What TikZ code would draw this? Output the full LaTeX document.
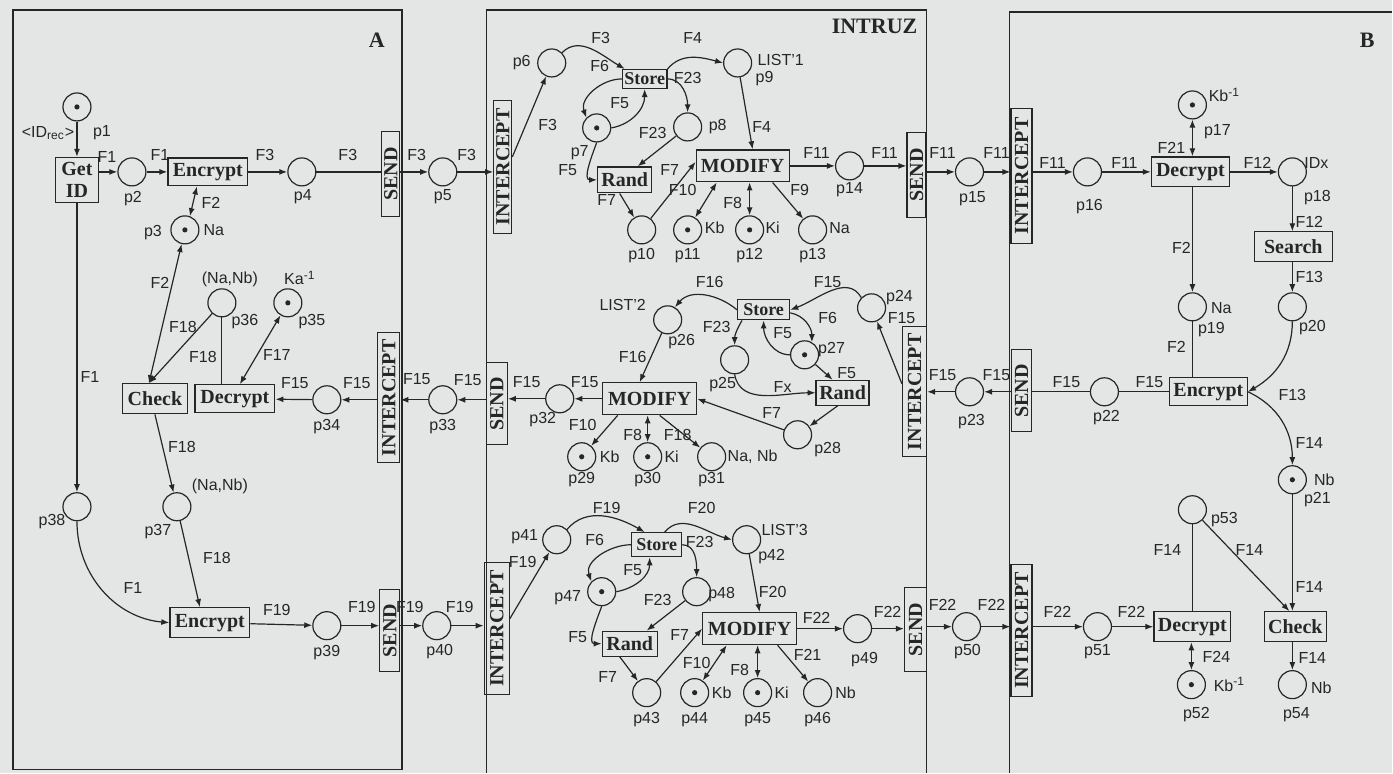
\documentclass[tikz,border=0pt]{standalone}
\usepackage{fontspec}
\setmainfont{Liberation Serif}
\setsansfont{Liberation Sans}
\usetikzlibrary{arrows.meta, calc}
\definecolor{scanbg}{HTML}{E4E6E6}
\definecolor{ink}{HTML}{262626}

\begin{document}
\begin{tikzpicture}[x=0.5pt, y=0.5pt, >={Latex[length=4pt,width=3pt]},
    color=ink, line width=0.6pt,
    placenode/.style={circle, draw, minimum size=14pt, inner sep=0pt},
    marked/.style={placenode, path picture={\fill (path picture bounding box.center) circle (1.3pt);}},
    transbox/.style={draw, rectangle, inner sep=1pt, font=\bfseries\fontsize{10}{11}\selectfont},
    sidebox/.style={transbox, rotate=90},
    lab/.style={font=\sffamily\fontsize{8}{9}\selectfont, inner sep=0pt},
    title/.style={font=\bfseries\fontsize{11}{12}\selectfont, inner sep=0pt},
    flow/.style={->}, flow2/.style={<->}, bare/.style={-}]
  \fill[scanbg] (0,0) rectangle (1393,-773);
  % frames
  \draw[line width=0.7pt] (13,-10) rectangle (402,-770);
  \draw[line width=0.7pt] (487,-773) -- (487,-10) -- (927,-10) -- (927,-773);
  \draw[line width=0.7pt] (1393,-12) -- (1010,-12) -- (1010,-773);
  \node[title] (tA) at (377,-40) {A};
  \node[title] (tI) at (875,-26) {INTRUZ};
  \node[title] (tB) at (1368,-40) {B};

  % places
  \foreach \n/\x/\y in {p2/132/172, p4/302/172, p5/443/172, p36/222/303, p34/327/400,
      p33/443/400, p38/77/507, p37/177/507, p39/327/626, p40/437/626,
      p6/552/63, p9/738/63, p8/688/127, p10/642/230, p13/813/230, p14/850/166,
      p24/872/308, p26/668/320, p25/735/360, p32/560/399, p28/798/435, p31/712/457,
      p41/557/540, p42/747/540, p48/697/592, p43/647/693, p46/818/693, p49/858/629,
      p15/970/172, p23/970/392, p50/967/627,
      p16/1088/172, p18/1293/172, p19/1193/307, p20/1293/307, p22/1105/392,
      p53/1193/510, p51/1098/627, p54/1293/685}
    \node[placenode] (\n) at (\x,-\y) {};
  \foreach \n/\x/\y in {p1/77/107, p3/185/230, p35/288/303, p7/597/128, p11/688/230,
      p12/750/230, p27/805/355, p29/582/457, p30/648/457, p47/602/592, p44/695/693,
      p45/758/693, p17/1193/105, p21/1293/480, p52/1192/685}
    \node[marked] (\n) at (\x,-\y) {};

  % transitions
  \node[transbox, minimum width=21.5pt, minimum height=22.5pt, align=center] (getid) at (77,-180) {Get\\ID};
  \node[transbox, minimum width=40pt, minimum height=14pt] (encA) at (208,-172) {Encrypt};
  \node[transbox, minimum width=32.5pt, minimum height=15pt] (checkA) at (155,-399) {Check};
  \node[transbox, minimum width=40pt, minimum height=14pt] (decA) at (235,-399) {Decrypt};
  \node[transbox, minimum width=40pt, minimum height=15pt] (encA2) at (210,-623) {Encrypt};
  \node[transbox, minimum width=20pt, minimum height=9.5pt, font=\bfseries\fontsize{9}{10}\selectfont] (storeI1) at (645,-79) {Store};
  \node[transbox, minimum width=27pt, minimum height=13pt] (randI1) at (625,-180) {Rand};
  \node[transbox, minimum width=46.5pt, minimum height=16pt] (modI1) at (743,-166) {MODIFY};
  \node[transbox, minimum width=26pt, minimum height=10pt, font=\bfseries\fontsize{9}{10}\selectfont] (storeI2) at (764,-310) {Store};
  \node[transbox, minimum width=26.5pt, minimum height=12.5pt] (randI2) at (843,-393) {Rand};
  \node[transbox, minimum width=47pt, minimum height=16pt] (modI2) at (650,-399) {MODIFY};
  \node[transbox, minimum width=25pt, minimum height=12pt, font=\bfseries\fontsize{9}{10}\selectfont] (storeI3) at (657,-545) {Store};
  \node[transbox, minimum width=27.5pt, minimum height=12.5pt] (randI3) at (630,-644) {Rand};
  \node[transbox, minimum width=47pt, minimum height=16pt] (modI3) at (750,-629) {MODIFY};
  \node[transbox, minimum width=39pt, minimum height=15pt] (decB1) at (1191,-172) {Decrypt};
  \node[transbox, minimum width=39pt, minimum height=15pt] (search) at (1294,-247) {Search};
  \node[transbox, minimum width=39pt, minimum height=14pt] (encB) at (1209,-392) {Encrypt};
  \node[transbox, minimum width=38.5pt, minimum height=15pt] (decB3) at (1193,-627) {Decrypt};
  \node[transbox, minimum width=31pt, minimum height=15pt] (checkB) at (1296,-627) {Check};
  % side transitions
  \node[sidebox, minimum width=42.5pt, minimum height=9pt] (sendA1) at (391,-174) {SEND};
  \node[sidebox, minimum width=65pt, minimum height=11pt] (intA) at (389,-398) {INTERCEPT};
  \node[sidebox, minimum width=41pt, minimum height=10pt] (sendA2) at (390,-631) {SEND};
  \node[sidebox, minimum width=66.5pt, minimum height=9pt] (intI1) at (503,-167) {INTERCEPT};
  \node[sidebox, minimum width=42.5pt, minimum height=9.5pt] (sendI1) at (917,-175) {SEND};
  \node[sidebox, minimum width=41pt, minimum height=10.5pt] (sendI2) at (497,-404) {SEND};
  \node[sidebox, minimum width=65pt, minimum height=12pt] (intI2) at (915,-392) {INTERCEPT};
  \node[sidebox, minimum width=66pt, minimum height=12.5pt] (intI3) at (497,-629) {INTERCEPT};
  \node[sidebox, minimum width=42pt, minimum height=11pt] (sendI3) at (916,-630) {SEND};
  \node[sidebox, minimum width=67.5pt, minimum height=10.5pt] (intB1) at (1022,-176) {INTERCEPT};
  \node[sidebox, minimum width=41pt, minimum height=10pt] (sendB) at (1022,-391) {SEND};
  \node[sidebox, minimum width=66pt, minimum height=10.5pt] (intB3) at (1022,-631) {INTERCEPT};

  % labels
  \foreach \x/\y/\txt in {48/133/{\textless ID\textsubscript{rec}\textgreater}, 102/133/p1,
      107/157/F1, 160/155/F1, 265/155/F3, 348/155/F3, 417/155/F3, 467/155/F3,
      133/199/p2, 303/197/p4, 443/197/p5, 211/203/F2, 153/233/p3, 214/230/Na,
      160/283/F2, 230/280/{(Na,Nb)}, 300/278/{Ka\textsuperscript{-1}}, 245/322/p36,
      312/322/p35, 183/327/F18, 203/357/F18, 277/355/F17, 90/377/F1, 295/383/F15,
      357/383/F15, 417/379/F15, 468/380/F15, 327/427/p34, 443/427/p33, 182/447/F18,
      220/487/{(Na,Nb)}, 52/522/p38, 158/532/p37, 217/558/F18, 133/588/F1,
      277/610/F19, 362/607/F19, 410/607/F19, 460/607/F19, 327/653/p39, 440/652/p40,
      601/38/F3, 693/38/F4, 522/63/p6, 781/60/{LIST'1}, 765/79/p9, 600/66/F6,
      688/78/F23, 620/103/F5, 580/153/p7, 653/133/F23, 718/127/p8, 762/127/F4,
      548/125/F3, 568/170/F5, 670/170/F7, 817/153/F11, 850/190/p14, 885/153/F11,
      683/190/F10, 733/203/F8, 800/190/F9, 607/200/F7, 715/228/Kb, 773/228/Ki,
      840/228/Na, 642/256/p10, 688/256/p11, 750/256/p12, 813/256/p13,
      710/282/F16, 828/282/F15, 900/298/p24, 902/318/F15, 623/305/{LIST'2},
      682/342/p26, 717/327/F23, 828/318/F6, 783/333/F5, 832/350/p27, 723/385/p25,
      633/357/F16, 847/373/F5, 783/387/Fx, 543/420/p32, 585/382/F15, 527/382/F15,
      772/413/F7, 828/450/p28, 583/425/F10, 633/435/F8, 678/435/F18, 610/457/Kb,
      672/457/Ki, 753/457/{Na, Nb}, 582/480/p29, 648/480/p30, 712/480/p31,
      607/508/F19, 702/508/F20, 525/537/p41, 523/562/F19, 595/540/F6, 700/542/F23,
      785/530/{LIST'3}, 772/557/p42, 633/570/F5, 568/598/p47, 722/595/p48,
      658/600/F23, 773/592/F20, 578/637/F5, 680/635/F7, 817/618/F22, 865/660/p49,
      888/612/F22, 697/663/F10, 740/670/F8, 808/655/F21, 608/677/F7, 722/693/Kb,
      782/693/Ki, 846/693/Nb, 647/720/p43, 695/720/p44, 758/720/p45, 818/720/p46,
      943/153/F11, 997/153/F11, 973/199/p15, 943/375/F15, 997/375/F15, 972/422/p23,
      943/605/F22, 992/605/F22, 968/652/p50,
      1053/163/F11, 1090/207/p16, 1125/163/F11, 1172/148/F21,
      1225/95/{Kb\textsuperscript{-1}}, 1218/132/p17, 1258/163/F12, 1317/163/IDx,
      1318/198/p18, 1310/222/F12, 1182/248/F2, 1310/277/F13, 1313/328/p20,
      1222/308/Na, 1212/330/p19, 1177/347/F2, 1293/395/F13, 1150/382/F15,
      1107/418/p22, 1067/382/F15, 1310/443/F14, 1325/480/Nb, 1318/500/p21,
      1225/520/p53, 1168/550/F14, 1250/550/F14, 1310/587/F14, 1058/612/F22,
      1098/652/p51, 1132/612/F22, 1217/657/F24, 1230/685/{Kb\textsuperscript{-1}},
      1197/715/p52, 1313/658/F14, 1322/688/Nb, 1297/715/p54}
    \node[lab] (l-\x-\y) at (\x,-\y) {\txt};

  % A
  \draw[flow] (p1) -- (getid);
  \draw[flow] (getid.east |- p2) -- (p2);
  \draw[flow] (p2) -- (encA);
  \draw[flow2] (p3.70) -- ($(encA.south)+(-11,0)$);
  \draw[flow] (encA) -- (p4);
  \draw[bare] (p4) -- (p4 -| sendA1.north);
  \draw[flow] (sendA1.south |- p5) -- (p5);
  \draw[flow] (p5) -- (p5 -| intI1.north);
  \draw[flow2] ($(checkA.north)+(-6,0)$) -- (p3);
  \draw[flow] (p36) -- ($(checkA.north)+(-6,0)$);
  \draw[bare] (decA.north -| p36) -- (p36);
  \draw[flow2] (p35) -- ($(decA.north)+(5,0)$);
  \draw[flow] (checkA.south) -- (p37);
  \draw[flow] (intA.north |- p34) -- (p34);
  \draw[flow] (p34) -- (decA);
  \draw[flow] (p33) -- (p33 -| intA.south);
  \draw[flow] (sendI2.north |- p33) -- (p33);
  \draw[flow] (getid) -- (p38);
  \draw[flow] (p38.south) to[out=-90,in=175] (encA2.west);
  \draw[flow] (p37) -- ($(encA2.north)+(-10,0)$);
  \draw[flow] (encA2) -- (p39);
  \draw[flow] (p39) -- (p39 -| sendA2.north);
  \draw[flow] (sendA2.south |- p40) -- (p40);
  \draw[flow] (p40) -- (p40 -| intI3.north);

  % INTRUZ, first part
  \draw[flow] ([yshift=5pt]intI1.south) -- (p6);
  \draw[flow] (p6.north east) to[out=45,in=150] ($(storeI1.north west)+(3,0)$);
  \draw[flow] (storeI1.north east) to[out=50,in=165] (p9.west);
  \draw[flow] (storeI1.west) to[out=180,in=110] (p7.north west);
  \draw[flow] (p7.east) to[out=10,in=-90] (storeI1.south);
  \draw[flow] (storeI1.east) to[out=0,in=90] (p8.north);
  \draw[flow] (p8) -- ($(randI1.north)+(13,0)$);
  \draw[flow] (p7.south) to[out=-110,in=180] (randI1.west);
  \draw[flow] ($(randI1.south)+(-5,0)$) -- (p10);
  \draw[flow] (p10) -- ([yshift=2pt]modI1.west);
  \draw[flow] (p9) -- ($(modI1.north)+(10,0)$);
  \draw[flow2] ($(modI1.south)+(-26,0)$) -- (p11);
  \draw[flow2] (modI1.south -| p12) -- (p12);
  \draw[flow] ($(modI1.south)+(30,0)$) -- (p13);
  \draw[flow] (modI1) -- (p14);
  \draw[flow] (p14) -- (p14 -| sendI1.north);
  \draw[flow] (sendI1.south |- p15) -- (p15);
  \draw[flow] (p15) -- (p15 -| intB1.north);

  % INTRUZ, second part
  \draw[flow] (p23) -- (p23 -| intI2.south);
  \draw[flow] ([yshift=4pt]intI2.north) -- (p24);
  \draw[flow] (p24.north west) to[out=120,in=20] (storeI2.east);
  \draw[flow] (storeI2.west) to[out=140,in=50] (p26.60);
  \draw[flow] (p26) -- ($(modI2.north)+(-10,0)$);
  \draw[flow] ($(storeI2.south west)+(5,0)$) to[out=-120,in=90] (p25.north);
  \draw[flow] ([yshift=-1.5pt]storeI2.east) to[out=-10,in=90] (p27.60);
  \draw[flow] (p27.west) to[out=180,in=-90] (storeI2.south);
  \draw[flow] (p27) -- ($(randI2.north)+(-10,0)$);
  \draw[flow] (p25.south) to[out=-80,in=180] (randI2.west);
  \draw[flow] ($(randI2.south)+(-5,0)$) -- (p28);
  \draw[flow] (p28) -- (modI2.east);
  \draw[flow] (modI2) -- (p32);
  \draw[flow] (p32) -- (p32 -| sendI2.south);
  \draw[flow] ($(modI2.south)+(-32,0)$) -- (p29);
  \draw[flow2] (modI2.south -| p30) -- (p30);
  \draw[flow] ($(modI2.south)+(10,0)$) -- (p31);

  % INTRUZ, third part
  \draw[flow] ([yshift=5pt]intI3.south) -- (p41);
  \draw[flow] (p41.north east) to[out=50,in=150] ($(storeI3.north)+(-12,0)$);
  \draw[flow] ($(storeI3.north)+(8,0)$) to[out=50,in=165] (p42.west);
  \draw[flow] (storeI3.west) to[out=180,in=110] (p47.north west);
  \draw[flow] (p47.east) to[out=10,in=-90] ($(storeI3.south)+(-7,0)$);
  \draw[flow] (storeI3.east) to[out=0,in=90] (p48.north);
  \draw[flow] (p48) -- ($(randI3.north)+(17,0)$);
  \draw[flow] (p47.south) to[out=-110,in=180] (randI3.west);
  \draw[flow] ($(randI3.south)+(-10,0)$) -- (p43);
  \draw[flow] (p43) -- (modI3.west);
  \draw[flow] (p42) -- ($(modI3.north)+(10,0)$);
  \draw[flow2] ($(modI3.south)+(-23,0)$) -- (p44);
  \draw[flow2] (modI3.south -| p45) -- (p45);
  \draw[flow] ($(modI3.south)+(28,0)$) -- (p46);
  \draw[flow] (modI3) -- (p49);
  \draw[flow] (p49) -- (p49 -| sendI3.north);
  \draw[flow] (sendI3.south |- p50) -- (p50);
  \draw[flow] (p50) -- (p50 -| intB3.north);

  % B
  \draw[flow] (intB1.south |- p16) -- (p16);
  \draw[flow] (p16) -- (decB1);
  \draw[flow2] (p17) -- (p17 |- decB1.north);
  \draw[flow] (decB1) -- (p18);
  \draw[flow] (p18) -- (p18 |- search.north);
  \draw[flow] (search.south -| p20) -- (p20);
  \draw[flow] (decB1.south -| p19) -- (p19);
  \draw[bare] (p19) -- (p19 |- encB.north);
  \draw[flow] (p20.south) to[out=-90,in=30] (encB.east);
  \draw[flow] (encB.east) to[out=-25,in=90] (p21.north);
  \draw[bare] (encB) -- (p22);
  \draw[bare] (p22) -- (p22 -| sendB.south);
  \draw[flow] (sendB.north |- p23) -- (p23);
  \draw[flow] (intB3.south |- p51) -- (p51);
  \draw[flow] (p51) -- (decB3);
  \draw[bare] (decB3.north -| p53) -- (p53);
  \draw[flow] (p53) -- ($(checkB.north)+(-6,0)$);
  \draw[flow] (p21) -- (p21 |- checkB.north);
  \draw[flow] (checkB.south -| p54) -- (p54);
  \draw[flow2] (p52) -- (p52 |- decB3.south);
\end{tikzpicture}
\end{document}
